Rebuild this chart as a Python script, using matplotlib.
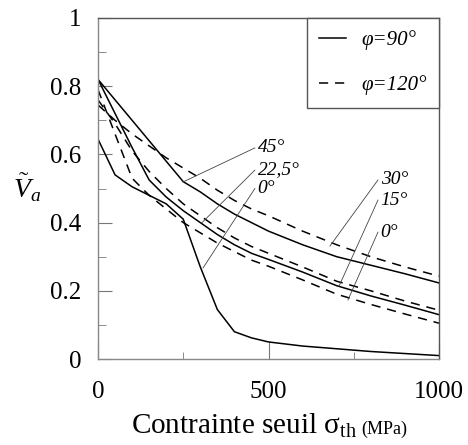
import matplotlib
matplotlib.use("Agg")
import matplotlib.pyplot as plt
from matplotlib.ticker import FixedLocator
from matplotlib.lines import Line2D

plt.rcParams['font.family'] = ['Liberation Serif', 'DejaVu Serif']
plt.rcParams['mathtext.fontset'] = 'custom'
plt.rcParams['mathtext.rm'] = 'Liberation Serif'
plt.rcParams['mathtext.it'] = 'Liberation Serif:italic'

# ---- data ----
x = [0, 50, 100, 150, 200, 250, 300, 350, 400, 450, 500, 600, 700, 800, 900, 1000]

# phi = 90 deg (solid)
s45  = [0.82, 0.76, 0.70, 0.64, 0.58, 0.52, 0.49, 0.455, 0.425, 0.40, 0.375, 0.335, 0.30, 0.275, 0.25, 0.223]
s225 = [0.82, 0.72, 0.62, 0.525, 0.475, 0.435, 0.40, 0.365, 0.335, 0.31, 0.292, 0.255, 0.215, 0.185, 0.158, 0.13]
s0   = [0.645, 0.54, 0.505, 0.48, 0.455, 0.41, 0.27, 0.145, 0.08, 0.062, 0.05, 0.038, 0.03, 0.022, 0.016, 0.01]

# phi = 120 deg (dashed)
d30  = [0.745, 0.70, 0.66, 0.625, 0.59, 0.56, 0.53, 0.495, 0.465, 0.44, 0.42, 0.375, 0.335, 0.30, 0.27, 0.243]
d15  = [0.76, 0.69, 0.61, 0.55, 0.50, 0.455, 0.42, 0.385, 0.355, 0.33, 0.31, 0.27, 0.228, 0.20, 0.17, 0.143]
d0   = [0.79, 0.66, 0.53, 0.48, 0.44, 0.40, 0.37, 0.34, 0.315, 0.29, 0.272, 0.232, 0.19, 0.16, 0.132, 0.105]

legend_labels = ['φ=90°', 'φ=120°']

x_ticks = [0, 500, 1000]
x_minor = [250, 750]
y_ticks = [0, 0.2, 0.4, 0.6, 0.8, 1.0]
y_ticklabels = ['0', '0.2', '0.4', '0.6', '0.8', '1']
y_minor = [0.1, 0.3, 0.5, 0.7, 0.9]

# annotations: label, target (x, y), text anchor (x, y)
ann_labels = ['45°', '22,5°', '0°', '30°', '15°', '0°']
ann_target = [(249, 0.519), (305, 0.40), (308, 0.267), (680, 0.331), (707, 0.214), (733, 0.173)]
ann_text   = [(460, 0.619), (460, 0.554), (460, 0.50), (821, 0.525), (821, 0.466), (821, 0.372)]

fig = plt.figure(figsize=(4.68, 4.45), dpi=100)
ax = fig.add_axes([98/468, 1-359/445, 341/468, 341/445])

lw = 1.1
ax.plot(x, s45, color='black', lw=lw)
ax.plot(x, s225, color='black', lw=lw)
ax.plot(x, s0, color='black', lw=lw)
dash = (0, (6, 4.5))
ax.plot(x, d30, color='black', lw=lw, linestyle=dash)
ax.plot(x, d15, color='black', lw=lw, linestyle=dash)
ax.plot(x, d0, color='black', lw=lw, linestyle=dash)

for lab, (tx, ty), (lx, ly) in zip(ann_labels, ann_target, ann_text):
    ax.plot([tx, lx], [ty, ly], color='#444444', lw=0.6)
    ax.text(lx + 8, ly, lab, fontsize=14, style='italic', ha='left', va='center')

ax.set_xlim(0, 1000)
ax.set_ylim(0, 1)
ax.xaxis.set_major_locator(FixedLocator(x_ticks))
ax.xaxis.set_minor_locator(FixedLocator(x_minor))
ax.yaxis.set_major_locator(FixedLocator(y_ticks))
ax.yaxis.set_minor_locator(FixedLocator(y_minor))
ax.set_yticklabels(y_ticklabels)
ax.set_xticklabels([str(v) for v in x_ticks])
ax.tick_params(axis='both', which='both', direction='in', color='#777777',
               labelsize=18, top=False, right=False)
ax.tick_params(axis='y', which='major', length=10, pad=12)
ax.tick_params(axis='y', which='minor', length=6)
ax.tick_params(axis='x', which='major', length=12, pad=16)
ax.tick_params(axis='x', which='minor', length=5)
for side in ['left', 'bottom']:
    ax.spines[side].set_color('#888888')
for side in ['top', 'right']:
    ax.spines[side].set_color('#555555')
for sp in ax.spines.values():
    sp.set_linewidth(1.0)

# legend
handles = [Line2D([], [], color='black', lw=lw),
           Line2D([], [], color='black', lw=lw, linestyle=dash)]
leg = ax.legend(handles, legend_labels, loc='upper right', bbox_to_anchor=(1.0, 1.0),
                fancybox=False, framealpha=1, edgecolor='#555555',
                prop={'family': 'Liberation Serif', 'style': 'italic', 'size': 15},
                handlelength=1.3, labelspacing=1.2, borderpad=0.6, handletextpad=0.7,
                borderaxespad=0)
leg.get_frame().set_linewidth(1.0)

# axis labels
fig.text(27/468, 1-188/445, r'$\tilde{V}_a$', fontsize=20, ha='center', va='center')
fig.text(357/468, 1-434/445, r'Contrainte seuil $\mathrm{\sigma}_{\mathrm{th}}$',
         fontsize=21, ha='right', va='baseline')
fig.text(361/468, 1-434/445, '(MPa)', fontsize=13, ha='left', va='baseline')

fig.savefig('out.png', dpi=100)
